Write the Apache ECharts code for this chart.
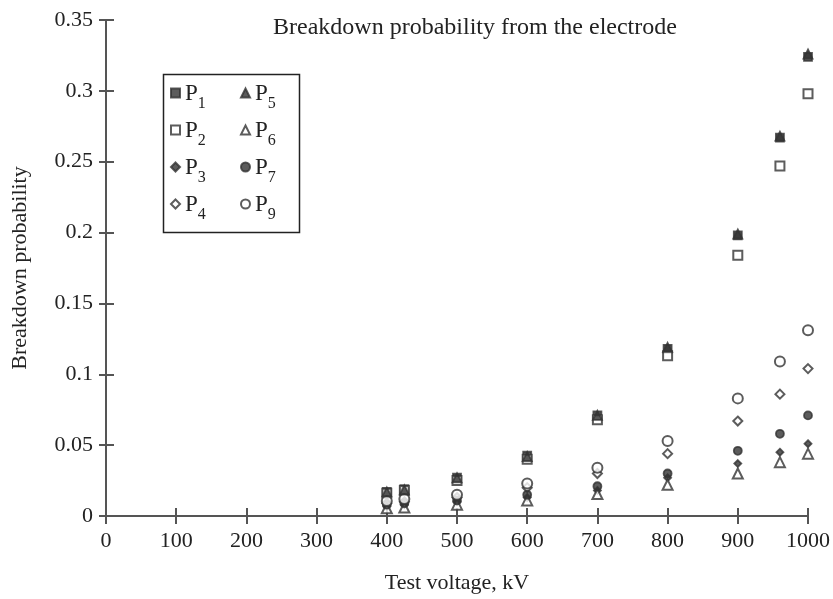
<!DOCTYPE html>
<html>
<head>
<meta charset="utf-8">
<script src="https://cdn.jsdelivr.net/npm/echarts@6/dist/echarts.min.js"></script>
<style>html,body{margin:0;padding:0;background:#fff}#c{width:833px;height:599px}</style>
</head>
<body>
<div id="c"></div>
<script>
const voltages = [400, 425, 500, 600, 700, 800, 900, 960, 1000];
const P1 = [0.017, 0.019, 0.027, 0.0425, 0.071, 0.118, 0.198, 0.267, 0.324];
const P2 = [0.016, 0.018, 0.025, 0.040, 0.068, 0.113, 0.184, 0.247, 0.298];
const P3 = [0.007, 0.008, 0.010, 0.013, 0.018, 0.027, 0.037, 0.045, 0.051];
const P4 = [0.009, 0.010, 0.013, 0.020, 0.030, 0.044, 0.067, 0.086, 0.104];
const P5 = [0.017, 0.0185, 0.027, 0.042, 0.071, 0.119, 0.199, 0.268, 0.326];
const P6 = [0.0055, 0.006, 0.008, 0.011, 0.0155, 0.022, 0.030, 0.038, 0.044];
const P7 = [0.008, 0.009, 0.011, 0.015, 0.021, 0.030, 0.046, 0.058, 0.071];
const P9 = [0.0105, 0.012, 0.015, 0.023, 0.034, 0.053, 0.083, 0.109, 0.131];
const xTicks = [0, 100, 200, 300, 400, 500, 600, 700, 800, 900, 1000];
const yTicks = [0, 0.05, 0.1, 0.15, 0.2, 0.25, 0.3, 0.35];

const FONT = '"Liberation Serif", "DejaVu Serif", serif';
const INK = '#333';
const TXT = '#222';

function pair(ys) { return voltages.map((v, i) => [v, ys[i]]); }

const seriesDefs = [
  { name: 'P1', data: P1, symbol: 'rect', size: 8 },
  { name: 'P2', data: P2, symbol: 'emptyRect', size: 9 },
  { name: 'P3', data: P3, symbol: 'diamond', size: 7 },
  { name: 'P4', data: P4, symbol: 'emptyDiamond', size: 9 },
  { name: 'P6', data: P6, symbol: 'emptyTriangle', size: 10 },
  { name: 'P7', data: P7, symbol: 'circle', size: 8 },
  { name: 'P9', data: P9, symbol: 'emptyCircle', size: 10 },
  { name: 'P5', data: P5, symbol: 'triangle', size: 9 }
];

const series = seriesDefs.map(d => ({
  name: d.name,
  type: 'scatter',
  xAxisIndex: 0,
  yAxisIndex: 0,
  symbol: d.symbol,
  symbolSize: d.size,
  data: pair(d.data),
  itemStyle: { color: INK, borderColor: INK, borderWidth: 1.8 },
  emphasis: { disabled: true }
}));

const legendRich = {
  p: { fontFamily: FONT, fontSize: 23, color: TXT, verticalAlign: 'bottom', lineHeight: 24 },
  s: { fontFamily: FONT, fontSize: 16, color: TXT, verticalAlign: 'bottom', lineHeight: 24, padding: [0, 0, -7, 0] }
};
const legendFmt = n => '{p|P}{s|' + n.slice(1) + '}';

const chart = echarts.init(document.getElementById('c'), null, { renderer: 'canvas' });
chart.setOption({
  animation: false,
  backgroundColor: '#fff',
  title: {
    text: 'Breakdown probability from the electrode',
    left: 470, top: 11, textAlign: 'center',
    textStyle: { fontFamily: FONT, fontSize: 24, fontWeight: 'normal', color: TXT }
  },
  graphic: [{
    type: 'rect', left: 161, top: 72, z: 10,
    shape: { width: 136, height: 158 },
    style: { fill: 'none', stroke: '#222', lineWidth: 1.5 }
  }],
  legend: [
    {
      data: ['P1', 'P2', 'P3', 'P4'], orient: 'vertical', left: 170, top: 82,
      itemGap: 7, itemWidth: 9, itemHeight: 9, padding: 0, selectedMode: false,
      formatter: legendFmt, textStyle: { rich: legendRich, fontFamily: FONT }
    },
    {
      data: ['P5', 'P6', 'P7', 'P9'], orient: 'vertical', left: 240, top: 82,
      itemGap: 7, itemWidth: 9, itemHeight: 9, padding: 0, selectedMode: false,
      formatter: legendFmt, textStyle: { rich: legendRich, fontFamily: FONT }
    }
  ],
  grid: { left: 106, right: 25, top: 20, bottom: 79, containLabel: false },
  xAxis: [
    {
      type: 'value', min: 0, max: 1000, interval: 100,
      name: 'Test voltage, kV', nameLocation: 'middle', nameGap: 56,
      nameTextStyle: { fontFamily: FONT, fontSize: 22, color: TXT },
      axisLine: { show: true, lineStyle: { color: '#555', width: 2 } },
      axisTick: { show: true, length: 8, lineStyle: { color: '#555', width: 2 } },
      axisLabel: { fontFamily: FONT, fontSize: 22, color: TXT, margin: 14,
        formatter: v => xTicks.includes(v) ? String(v) : '' },
      splitLine: { show: false }
    },
    {
      type: 'value', min: 0, max: 1000, interval: 100, position: 'bottom',
      axisLine: { show: false },
      axisTick: { show: true, inside: true, length: 8, lineStyle: { color: '#555', width: 2 } },
      axisLabel: { show: false }, splitLine: { show: false }
    }
  ],
  yAxis: [
    {
      type: 'value', min: 0, max: 0.35, interval: 0.05,
      name: 'Breakdown probability', nameLocation: 'middle', nameGap: 75, nameRotate: 90,
      nameTextStyle: { fontFamily: FONT, fontSize: 22, color: TXT },
      axisLine: { show: true, lineStyle: { color: '#555', width: 2 } },
      axisTick: { show: true, length: 7, lineStyle: { color: '#555', width: 2 } },
      axisLabel: { fontFamily: FONT, fontSize: 22, color: TXT, margin: 13,
        formatter: v => { const t = yTicks.find(k => Math.abs(k - v) < 1e-9); return t === undefined ? '' : String(+t.toFixed(2)); } },
      splitLine: { show: false }
    },
    {
      type: 'value', min: 0, max: 0.35, interval: 0.05, position: 'left',
      axisLine: { show: false },
      axisTick: { show: true, inside: true, length: 8, lineStyle: { color: '#555', width: 2 } },
      axisLabel: { show: false }, splitLine: { show: false }
    }
  ],
  series: series
});
</script>
</body>
</html>
